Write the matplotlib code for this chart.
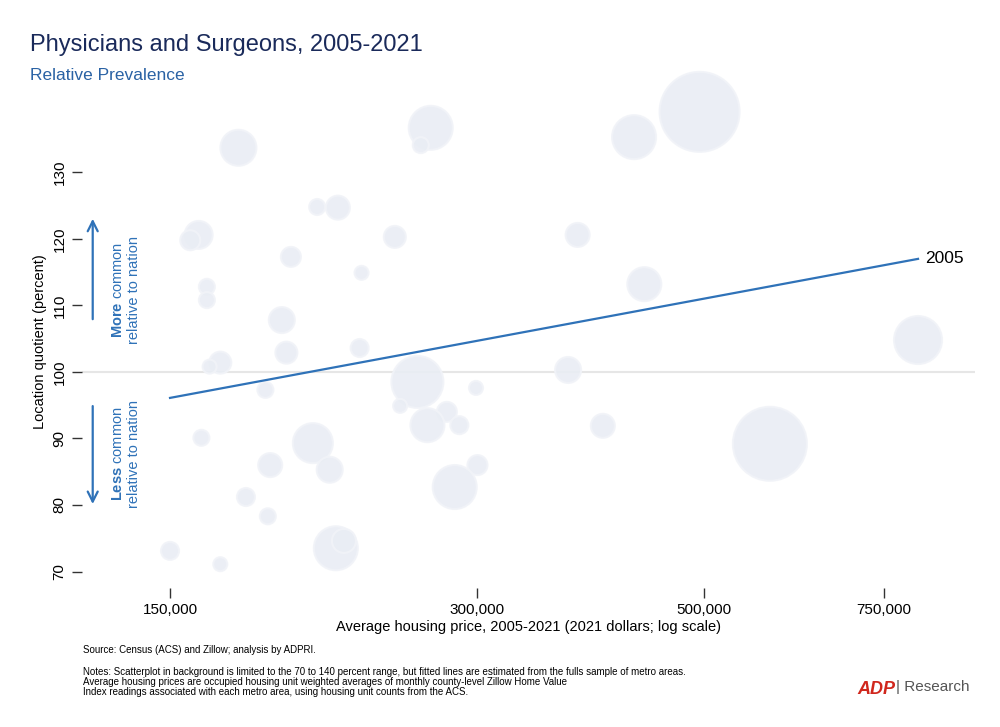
import matplotlib.pyplot as plt
import numpy as np

plt.rcParams['font.family'] = ['Liberation Sans', 'DejaVu Sans']
plt.rcParams['mathtext.fontset'] = 'custom'
plt.rcParams['mathtext.bf'] = 'Liberation Sans:bold'

# metro bubbles: housing price (dollars), location quotient (percent), bubble radius (px)
price = [175e3, 270e3, 264e3, 427e3, 495e3, 209e3, 219e3, 160e3, 157e3, 249e3, 376e3,
         197e3, 231e3, 163e3, 163e3, 437e3, 193e3, 810e3, 195e3, 230e3, 168e3, 164e3,
         262e3, 368e3, 186e3, 299e3, 252e3, 280e3, 268e3, 288e3, 161e3, 398e3, 207e3,
         580e3, 215e3, 188e3, 300e3, 285e3, 178e3, 187e3, 218e3, 222e3, 150e3, 168e3]
lq = [133.7, 136.7, 134.1, 135.3, 139.1, 124.8, 124.7, 120.6, 119.8, 120.3, 120.6,
      117.3, 114.9, 112.8, 110.8, 113.2, 107.8, 104.8, 102.9, 103.6, 101.4, 100.8,
      98.5, 100.3, 97.3, 97.6, 94.9, 94.0, 92.0, 92.0, 90.1, 91.9, 89.3,
      89.2, 85.3, 86.0, 86.0, 82.7, 81.2, 78.3, 73.5, 74.6, 73.1, 71.1]
radius = [18, 22, 8, 22, 40, 8, 12, 14, 10, 11, 12,
          10, 7, 8, 8, 17, 13, 24, 11, 9, 11, 7,
          26, 13, 8, 7, 7, 10, 17, 9, 8, 12, 20,
          37, 13, 12, 10, 22, 9, 8, 22, 12, 9, 7]

fit_x = [150e3, 810e3]
fit_y = [96.1, 117.0]

xticks = [150000, 300000, 500000, 750000]
yticks = [70, 80, 90, 100, 110, 120, 130]

blue = '#2f72b8'
fig = plt.figure(figsize=(10, 7.27), dpi=100)
ax = fig.add_axes([0.082, 0.191, 0.893, 0.678])

sizes = (2 * np.array(radius) * 0.72) ** 2
ax.scatter(price, lq, s=sizes, color='#e9edf4', edgecolors='#f1f3f8', linewidths=1.5,
           alpha=0.9, zorder=1, clip_on=False)
ax.axhline(100, color='#e6e6e6', lw=1.5, zorder=0)
ax.plot(fit_x, fit_y, color=blue, lw=1.6, zorder=3)
ax.text(fit_x[1] * 1.015, fit_y[1], '2005', fontsize=12.5, va='center', ha='left')

ax.set_xscale('log')
ax.set_xlim(123e3, 921e3)
ax.set_ylim(67.5, 141.6)
ax.set_xticks(xticks)
ax.set_xticklabels([f'{v:,}' for v in xticks])
ax.set_xticks([], minor=True)
ax.set_yticks(yticks)
ax.set_yticklabels([str(v) for v in yticks], rotation=90, va='center')
ax.tick_params(axis='both', length=7, width=1, color='#333333', labelsize=11, pad=4)
for s in ax.spines.values():
    s.set_visible(False)
ax.set_xlabel('Average housing price, 2005-2021 (2021 dollars; log scale)', fontsize=10.5, labelpad=2)
ax.set_ylabel('Location quotient (percent)', fontsize=10.5, labelpad=4)

# side annotations
ax.annotate('', xy=(0.012, 0.755), xytext=(0.012, 0.54), xycoords='axes fraction',
            arrowprops=dict(arrowstyle='->', color=blue, lw=1.6, mutation_scale=18))
ax.annotate('', xy=(0.012, 0.165), xytext=(0.012, 0.375), xycoords='axes fraction',
            arrowprops=dict(arrowstyle='->', color=blue, lw=1.6, mutation_scale=18))
fig.text(0.118, 0.601, r'$\mathbf{More}$ common', rotation=90, color=blue, fontsize=10.5, ha='center', va='center')
fig.text(0.134, 0.601, 'relative to nation', rotation=90, color=blue, fontsize=10.5, ha='center', va='center')
fig.text(0.118, 0.376, r'$\mathbf{Less}$ common', rotation=90, color=blue, fontsize=10.5, ha='center', va='center')
fig.text(0.134, 0.376, 'relative to nation', rotation=90, color=blue, fontsize=10.5, ha='center', va='center')

fig.text(0.03, 0.938, 'Physicians and Surgeons, 2005-2021', fontsize=17, color='#1a2a5a', va='center')
fig.text(0.03, 0.896, 'Relative Prevalence', fontsize=12.5, color='#2a62a4', va='center')

fig.text(0.083, 0.106, 'Source: Census (ACS) and Zillow; analysis by ADPRI.', fontsize=7, va='center')
fig.text(0.083, 0.083, 'Notes: Scatterplot in background is limited to the 70 to 140 percent range, but fitted lines are estimated from the fulls sample of metro areas.\n'
         'Average housing prices are occupied housing unit weighted averages of monthly county-level Zillow Home Value\n'
         'Index readings associated with each metro area, using housing unit counts from the ACS.',
         fontsize=7, va='top', linespacing=1.05)
fig.text(0.857, 0.052, 'ADP', fontsize=13, color='#d0271d', fontweight='bold', style='italic', va='center')
fig.text(0.896, 0.055, '| Research', fontsize=11, color='#555555', va='center')

fig.savefig('out.png', dpi=100, facecolor='white')
